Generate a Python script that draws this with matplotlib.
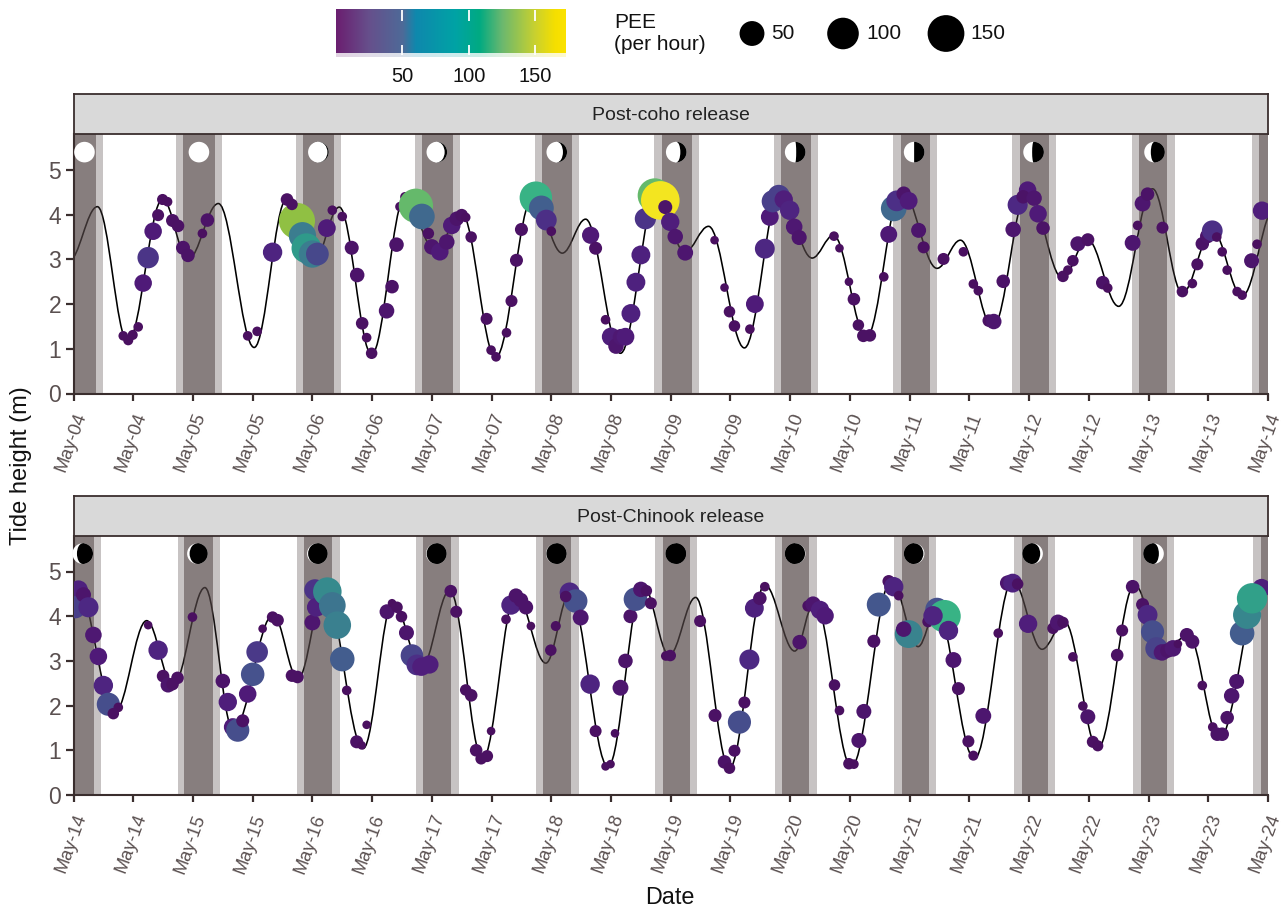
import numpy as np
import matplotlib
matplotlib.use("Agg")
import matplotlib.pyplot as plt
from matplotlib.colors import LinearSegmentedColormap, Normalize
from matplotlib.patches import Circle, Ellipse, PathPatch, Wedge, Rectangle
from matplotlib.path import Path
from matplotlib.transforms import Affine2D

plt.rcParams['font.family'] = ['Liberation Sans', 'DejaVu Sans']

# ---------- data (hours since start of each panel, metres, PEE per hour) ----------
top_title = "Post-coho release"
bot_title = "Post-Chinook release"
top_labels = ["May-04","May-04","May-05","May-05","May-06","May-06","May-07","May-07","May-08","May-08","May-09",
              "May-09","May-10","May-10","May-11","May-11","May-12","May-12","May-13","May-13","May-14"]
bot_labels = ["May-14","May-14","May-15","May-15","May-16","May-16","May-17","May-17","May-18","May-18","May-19",
              "May-19","May-20","May-20","May-21","May-21","May-22","May-22","May-23","May-23","May-24"]

top_tide_hour = [-1,4.8,10.9,17.9,23.0,29.1,36.3,42.8,48.1,53.4,59.9,66.6,72.6,78.0,84.8,92.3,98.2,102.9,109.9,117.2,122.8,
                 127.6,134.8,141.9,148.4,152.7,159.3,166.4,173.5,178.2,184.7,191.7,198.7,203.7,210,216.8,222.8,228.8,234.8,241.5]
top_tide_height = [2.95,4.18,1.15,4.35,3.0,4.25,1.03,4.35,2.9,4.17,0.87,4.4,3.2,4.03,0.8,4.4,3.14,3.9,0.9,4.48,3.16,
                   3.74,1.02,4.48,3.03,3.54,1.26,4.55,2.8,3.43,1.48,4.55,2.58,3.45,1.95,4.58,2.25,3.65,2.18,4.2]
bot_tide_hour = [-5,0.9,8.3,14.7,20,26.4,32.1,40.1,45.1,50.5,58.2,64.2,69.9,75.6,82.2,88.9,94.9,99.7,107.4,114.4,119.7,125,
                 131.8,138.9,144.9,148.9,156.3,164.3,169.7,173.4,181,188.7,194.6,199.1,205.8,213.2,218.9,224,230.2,238.6,245]
bot_tide_height = [3.5,4.6,1.85,3.9,2.45,4.64,1.45,4.03,2.6,4.6,1.04,4.33,2.85,4.58,0.8,4.5,2.95,4.5,0.63,4.7,3.13,4.42,
                   0.6,4.7,3.22,4.33,0.63,4.8,3.32,4.15,0.81,4.8,3.26,3.88,1.04,4.7,3.2,3.58,1.26,4.66,3.4]

top_hour = [10,11,11.9,13,14,15,16,17,17.9,18.9,19.9,21,22,23,25.9,26.9,35,36.9,40,42.9,44.9,43.9,46,46.8,48,49,50.9,52,54,
            55.9,57,58,58.9,59.9,62.9,64,64.9,65.6,66.6,68.8,70,71.3,72,73.6,75,76,77,78,78.8,79.9,83,83.9,84.9,87,88,89,90,
            92.9,94,95,96,103.9,104.9,106.9,108,109,110,110.9,112,113,114,114.9,116.8,117.9,118.9,119.9,120.9,122.9,
            128.8,130.8,131.8,132.8,135.9,136.9,138.9,139.9,140.5,141.7,142.7,143.9,144.8,145.8,152.8,153.9,155.8,156.8,
            157.7,158.7,160,162.8,163.8,164.8,165.4,166.8,167.8,169.8,170.8,174.8,178.8,180.8,181.8,183.9,184.9,186.8,
            188.8,189.7,191.7,190.8,193,193.8,194.8,198.8,199.8,200.8,201.8,203.8,206.8,207.8,212.8,213.8,214.8,215.8,
            218.8,222.8,224.8,225.8,226.8,227.8,228.8,229.7,230.8,231.8,233.8,234.8,236.7,237.8,238.8]
top_height = [1.29,1.19,1.31,1.49,2.47,3.04,3.63,3.99,4.34,4.29,3.87,3.75,3.26,3.09,3.58,3.88,1.29,1.39,3.16,4.34,3.86,4.23,3.53,3.25,3.12,3.12,3.70,4.1,3.96,
              3.26,2.65,1.57,1.25,0.9,1.85,2.39,3.33,4.18,4.4,4.2,3.96,3.58,3.28,3.17,3.39,3.76,3.91,3.99,3.94,3.5,1.67,0.97,0.82,1.36,2.07,2.98,3.67,
              4.38,4.15,3.88,3.63,3.54,3.25,1.65,1.27,1.06,1.26,1.27,1.79,2.49,3.1,3.91,4.43,4.32,4.17,3.84,3.51,3.15,
              3.43,2.37,1.83,1.51,1.44,2.0,3.24,3.95,4.3,4.42,4.34,4.1,3.73,3.49,3.52,3.25,2.5,2.11,
              1.53,1.29,1.3,2.61,3.56,4.14,4.31,4.47,4.31,3.65,3.27,3.01,3.17,2.45,2.3,1.63,1.61,2.51,
              3.67,4.22,4.55,4.4,4.37,4.02,3.7,2.62,2.76,2.97,3.35,3.44,2.48,2.36,3.37,3.76,4.25,4.46,
              3.71,2.28,2.46,2.89,3.35,3.52,3.64,3.5,3.17,2.76,2.28,2.2,2.97,3.34,4.09]
top_pee = [0.2,0.4,0.4,0.2,15,31,15,2.2,1.2,0.2,3.7,3,5.5,4.6,0.2,4.6,0.2,0.2,22,3,143,1.6,66,85,66,38,16,0.2,0.2,
           5.5,6.6,3,0.2,1.6,9,4.6,6.6,0.2,0.2,125,55,1.6,9,15,9,15,6.6,3,0.2,1.6,2.2,0.2,0.2,0.2,2.2,3.7,3.7,
           108,50,28,0.2,14,3.7,0.2,18,9,12,16,20,20,20,30,125,170,5.5,18,9,10,
           0,0,1.6,1.6,0.2,16,24,16,35,35,18,22,12,8,0.2,0,0,3,
           1.6,3,3,0.2,13,55,28,6.6,16,7.7,2.2,2.2,0.2,0.2,0.2,3,9,4.6,
           9,25,15,4.6,9,15,4.6,1.6,0.2,1.6,7.7,3.7,4.6,0.2,10,0.2,10,4.6,
           2.2,1.6,0.2,2.2,4.6,6.6,28,0.2,0.2,0.2,0.2,0.2,7.7,0.2,18]

bot_hour = [1,0.3,2,3,4,5,6,7,9,8,15,17,18,19,19.9,20.9,23.9,30,31,32,33,34,35,36,36.9,38,40,41,43.9,45,48,48.5,48.8,51,52,53,54,54.9,
            56.9,57.9,58.9,63,64,65,65.9,66.9,68,69,69.9,71.5,75.8,76.9,78.8,79.9,80.9,81.9,83.1,83.9,86.9,87.9,88.9,89.9,90.9,91.9,
            95.9,96.9,99.7,100.9,98.9,101.9,103.8,104.9,106.9,107.9,108.8,109.9,110.9,111.9,112.9,114,115.1,116,119,119.9,125.9,
            128.9,130.8,131.8,132.8,133.8,134.8,135.8,136.8,137.9,138.9,145.9,147.6,148.6,150,151,152.9,153.9,155.8,156.8,
            157.8,158.8,160.8,161.8,163.8,164.8,165.8,167.8,166.8,171.7,173.5,175,172.7,175.8,176.8,177.8,179.8,180.8,182.8,
            185.8,187.7,188.7,189.7,191.8,196.8,197.8,198.8,200.8,202.8,203.8,204.8,205.8,209.7,210.7,212.8,214.8,215.8,216.8,
            217.6,218.7,219.8,220.9,221.9,223.7,224.8,226.8,228.9,229.8,230.8,231.8,232.7,233.7,238.7,234.8,235.8,236.8]
bot_height = [4.59,4.2,4.48,4.2,3.58,3.1,2.45,2.03,1.96,1.82,3.8,3.24,2.66,2.46,2.48,2.62,3.98,2.55,2.08,1.52,1.45,1.66,2.26,2.7,3.2,3.72,3.98,3.91,2.67,2.64,3.86,4.59,4.2,4.55,4.24,3.8,3.04,2.34,
              1.19,1.11,1.57,4.1,4.29,4.2,3.99,3.63,3.12,2.91,2.87,2.92,4.56,4.1,2.35,2.23,1.0,0.81,0.87,1.43,3.93,4.25,4.46,4.36,4.2,3.78,
              3.24,3.78,4.53,4.34,4.44,3.97,2.48,1.43,0.64,0.69,1.38,2.4,3.0,4.0,4.38,4.6,4.57,4.29,3.11,3.12,3.89,
              1.78,0.74,0.6,0.99,1.63,2.07,3.03,4.18,4.4,4.66,3.42,4.23,4.27,4.14,4.01,2.46,1.89,0.7,0.69,
              1.22,1.87,3.44,4.26,4.78,4.66,4.46,3.6,3.71,3.88,4.15,4.0,4.01,3.68,3.02,2.38,1.2,0.88,1.77,
              3.62,4.74,4.74,4.72,3.83,3.73,3.86,3.86,3.09,1.99,1.75,1.19,1.1,3.13,3.68,4.66,4.26,4.03,3.65,
              3.28,3.19,3.23,3.28,3.38,3.58,3.43,2.45,1.52,1.36,1.36,1.73,2.22,2.54,4.63,3.62,4.03,4.4]
bot_pee = [20,35,8,25,12,15,22,40,0.2,1.6,0,22,3,7.7,3,3,0.2,6.6,18,16,40,3.7,15,42,32,0,1.6,3,3,3,10,30,20,75,62,68,48,0.2,
           3.7,0,0,7.7,0,1.6,1.6,7.7,37,28,18,18,3,2.2,1.6,3,3,1.6,2.2,0,0.2,22,6.6,6.6,6.6,0,
           1.6,0.4,25,42,1.6,10,22,2.2,0,0,0,10,6.6,5.5,42,9,1.6,2.2,0.2,1.6,2.2,
           3.7,4.6,1.6,2.2,40,2.2,25,20,4.6,0.2,6.6,1.6,9,18,15,1.6,0.2,1.6,0.2,
           7.7,7.7,3.7,45,3,22,0.2,70,9,1.6,42,108,22,22,10,3.7,2.2,0.4,10,
           0.2,9,20,1.6,18,1.6,10,1.6,0.2,0.2,7.7,2.2,1.2,3,2.2,4.6,3.7,24,40,
           36,12,6.6,12,0,5.5,5.5,0.2,0.2,4.6,4.6,4.6,9,7.7,18,48,72,90]

# night and twilight limits in hours
top_dusk = [-2,20.6,44.7,68.6,92.7,116.6,140.7,164.6,188.6,212.6,236.7]
top_night_start = [0,22.1,46.1,70.1,94.1,118.2,142.1,166.2,190.1,214.1,238.1]
top_night_end = [4.45,28.4,52.3,76.3,100.1,124.3,148.1,172.0,195.9,219.8,240]
top_dawn = [5.85,29.8,53.7,77.7,101.6,125.6,149.6,173.5,197.4,221.4,240]
bot_dusk = [-2,20.9,44.9,68.9,92.9,116.9,140.9,164.9,188.9,212.9,236.9]
bot_night_start = [0,22.2,46.4,70.2,94.3,118.4,142.4,166.4,190.5,214.4,238.5]
bot_night_end = [4.1,28.0,52.0,75.9,100.0,123.8,147.8,171.8,195.7,219.7,240]
bot_dawn = [5.6,29.5,53.5,77.4,101.5,125.3,149.3,173.3,197.2,221.2,240]

# moon discs: dark fraction and dark side (+1 right, -1 left)
top_moon_hour = [2.2,25.2,49.2,73.0,97.1,121.1,145.0,168.9,192.9,217.2]
top_moon_dark = [0.0,0.0,0.06,0.12,0.2,0.3,0.45,0.5,0.57,0.68]
top_moon_side = [1]*10
bot_moon_hour = [1.85,24.9,49,72.9,97,121,145,168.9,192.7,217]
bot_moon_dark = [0.78,0.88,0.95,0.97,0.98,1.0,0.98,0.95,0.87,0.76]
bot_moon_side = [1,1,1,1,1,1,-1,-1,-1,-1]
moon_height = 5.4

legend_pee = [50,100,150]
cbar_ticks = [50,100,150]
pee_limit = 173.0
dot_stops = [(0,'#4a1060'),(15,'#4f1a78'),(26,'#4d2a85'),(41,'#46508d'),(66,'#3b7d8f'),(85,'#2f9a8a'),
             (108,'#38b385'),(125,'#65b96b'),(143,'#8fc043'),(173,'#fde91d')]
bar_stops = [(0,'#6b1f70'),(25,'#66508c'),(50,'#4e6a98'),(60,'#0f88ad'),(90,'#00a3a5'),(108,'#00aa82'),
             (125,'#6ab86f'),(150,'#c9d12f'),(165,'#f5df00'),(173,'#fbe200')]

# ---------- style ----------
W, H = 1282, 909
DARK = '#3a2e2e'
GREY = '#5a5050'
dot_cmap = LinearSegmentedColormap.from_list('dots', [(v/pee_limit, c) for v, c in dot_stops])
bar_cmap = LinearSegmentedColormap.from_list('bar', [(v/pee_limit, c) for v, c in bar_stops])
norm = Normalize(0, pee_limit)

def dia_px(p):
    return 8.6 + 2.3*np.sqrt(np.asarray(p, float))

def frac(l, t, r, b):
    return [l/W, 1-b/H, (r-l)/W, (b-t)/H]

fig = plt.figure(figsize=(12.82, 9.09), dpi=100)

def moon(ax, cx, cy, dark, side, zorder=5):
    rx, ry = 10.3/4.98, 10.3/44.7
    tf = Affine2D().scale(rx, ry).translate(cx, cy) + ax.transData
    ax.add_patch(Circle((0, 0), 1, transform=tf, fc='white', ec='none', zorder=zorder, clip_on=False))
    if dark > 0:
        t1, t2 = (-90, 90) if side > 0 else (90, 270)
        ax.add_patch(Wedge((0, 0), 1, t1, t2, transform=tf, fc='black', ec='none', zorder=zorder))
        w = abs(1 - 2*dark)*2
        col = 'white' if dark < 0.5 else 'black'
        ax.add_patch(Ellipse((0, 0), w, 2, transform=tf, fc=col, ec='none', zorder=zorder))

def panel(t, b, s_t, title, labels, thour, theight, hour, height, pee, dusk, nstart, nend, dawn, mh, md, ms):
    ax = fig.add_axes(frac(73.5, t, 1268, b))
    ax.set_xlim(0, 240)
    ax.set_ylim(0, (b-t)/44.7)
    # tide line
    verts, codes = [(thour[0], theight[0])], [Path.MOVETO]
    for x0, y0, x1, y1 in zip(thour[:-1], theight[:-1], thour[1:], theight[1:]):
        d = (x1-x0)*0.3642
        verts += [(x0+d, y0), (x1-d, y1), (x1, y1)]
        codes += [Path.CURVE4]*3
    ax.add_patch(PathPatch(Path(verts, codes), fc='none', ec='black', lw=1.15, zorder=1))
    # night and twilight bands
    for a, n0, n1, z in zip(dusk, nstart, nend, dawn):
        ax.axvspan(n0, n1, color='#524545', alpha=0.69, lw=0, zorder=2)
        ax.axvspan(a, n0, color='#4d4040', alpha=0.31, lw=0, zorder=2)
        ax.axvspan(n1, z, color='#4d4040', alpha=0.31, lw=0, zorder=2)
    # dots
    ax.scatter(hour, height, s=(dia_px(pee)*0.72)**2, c=pee, cmap=dot_cmap, norm=norm, linewidths=0, zorder=3)
    for x, d, sd in zip(mh, md, ms):
        moon(ax, x, moon_height, d, sd)
    for s in ('top', 'right'):
        ax.spines[s].set_visible(False)
    for s in ('left', 'bottom'):
        ax.spines[s].set_color(DARK)
        ax.spines[s].set_linewidth(1.5)
    ax.set_xticks(np.arange(0, 241, 12))
    ax.set_xticklabels(labels, rotation=70, ha='right', rotation_mode='anchor', fontsize=13.3, color=GREY)
    ax.set_yticks(range(6))
    ax.tick_params(axis='y', labelsize=16.5, labelcolor=GREY, color=DARK, width=1.6, length=5.5, pad=3.5)
    ax.tick_params(axis='x', color=DARK, width=1.6, length=5, pad=7)
    # strip
    st = fig.add_axes(frac(73.5, s_t, 1268, t))
    st.set_xticks([]); st.set_yticks([])
    st.set_facecolor('#d9d9d9')
    for s in st.spines.values():
        s.set_color(DARK); s.set_linewidth(1.3)
    st.text(0.5, 0.46, title, ha='center', va='center', fontsize=14, color='#222222', transform=st.transAxes)
    return ax

panel(134, 393.5, 94, top_title, top_labels, top_tide_hour, top_tide_height, top_hour, top_height, top_pee,
      top_dusk, top_night_start, top_night_end, top_dawn, top_moon_hour, top_moon_dark, top_moon_side)
panel(536, 795, 496, bot_title, bot_labels, bot_tide_hour, bot_tide_height, bot_hour, bot_height, bot_pee,
      bot_dusk, bot_night_start, bot_night_end, bot_dawn, bot_moon_hour, bot_moon_dark, bot_moon_side)

fig.text(21/W, 1-466/H, "Tide height (m)", rotation=90, ha='center', va='center', fontsize=17, color='#111111')
fig.text(670/W, 1-897/H, "Date", ha='center', va='center', fontsize=16.8, color='#111111')

# colour bar
cb = fig.add_axes(frac(336, 9, 566, 57))
grad = np.linspace(0, pee_limit, 256).reshape(1, -1)
cb.imshow(grad, extent=[0, pee_limit, 0.09, 1], aspect='auto', cmap=bar_cmap, norm=norm, interpolation='bilinear')
cb.imshow(grad, extent=[0, pee_limit, 0, 0.09], aspect='auto', cmap=bar_cmap, norm=norm, interpolation='bilinear', alpha=0.2)
cb.set_xlim(0, pee_limit); cb.set_ylim(0, 1)
cb.vlines(cbar_ticks, 0.75, 0.98, color='white', lw=1.3)
cb.vlines(cbar_ticks, 0.04, 0.24, color='white', lw=1.3)
cb.set_xticks(cbar_ticks); cb.set_yticks([])
cb.tick_params(axis='x', length=0, labelsize=14.5, pad=7, labelcolor='#111111')
for s in cb.spines.values():
    s.set_visible(False)

# size legend on a pixel overlay
ov = fig.add_axes([0, 0, 1, 1], facecolor='none')
ov.set_xlim(0, W); ov.set_ylim(H, 0); ov.axis('off')
ov.text(614.5, 22, "PEE", ha='left', va='center', fontsize=15, color='#111111')
ov.text(614.5, 45, "(per hour)", ha='left', va='center', fontsize=15, color='#111111')
for v, cx, tx in zip(legend_pee, (752, 843, 946), (771, 866, 970)):
    ov.add_patch(Circle((cx, 33.5), dia_px(v)/2, fc='black', ec='none'))
    ov.text(tx, 33.5, str(v), ha='left', va='center', fontsize=15, color='#111111')

fig.savefig("out.png", dpi=100)
